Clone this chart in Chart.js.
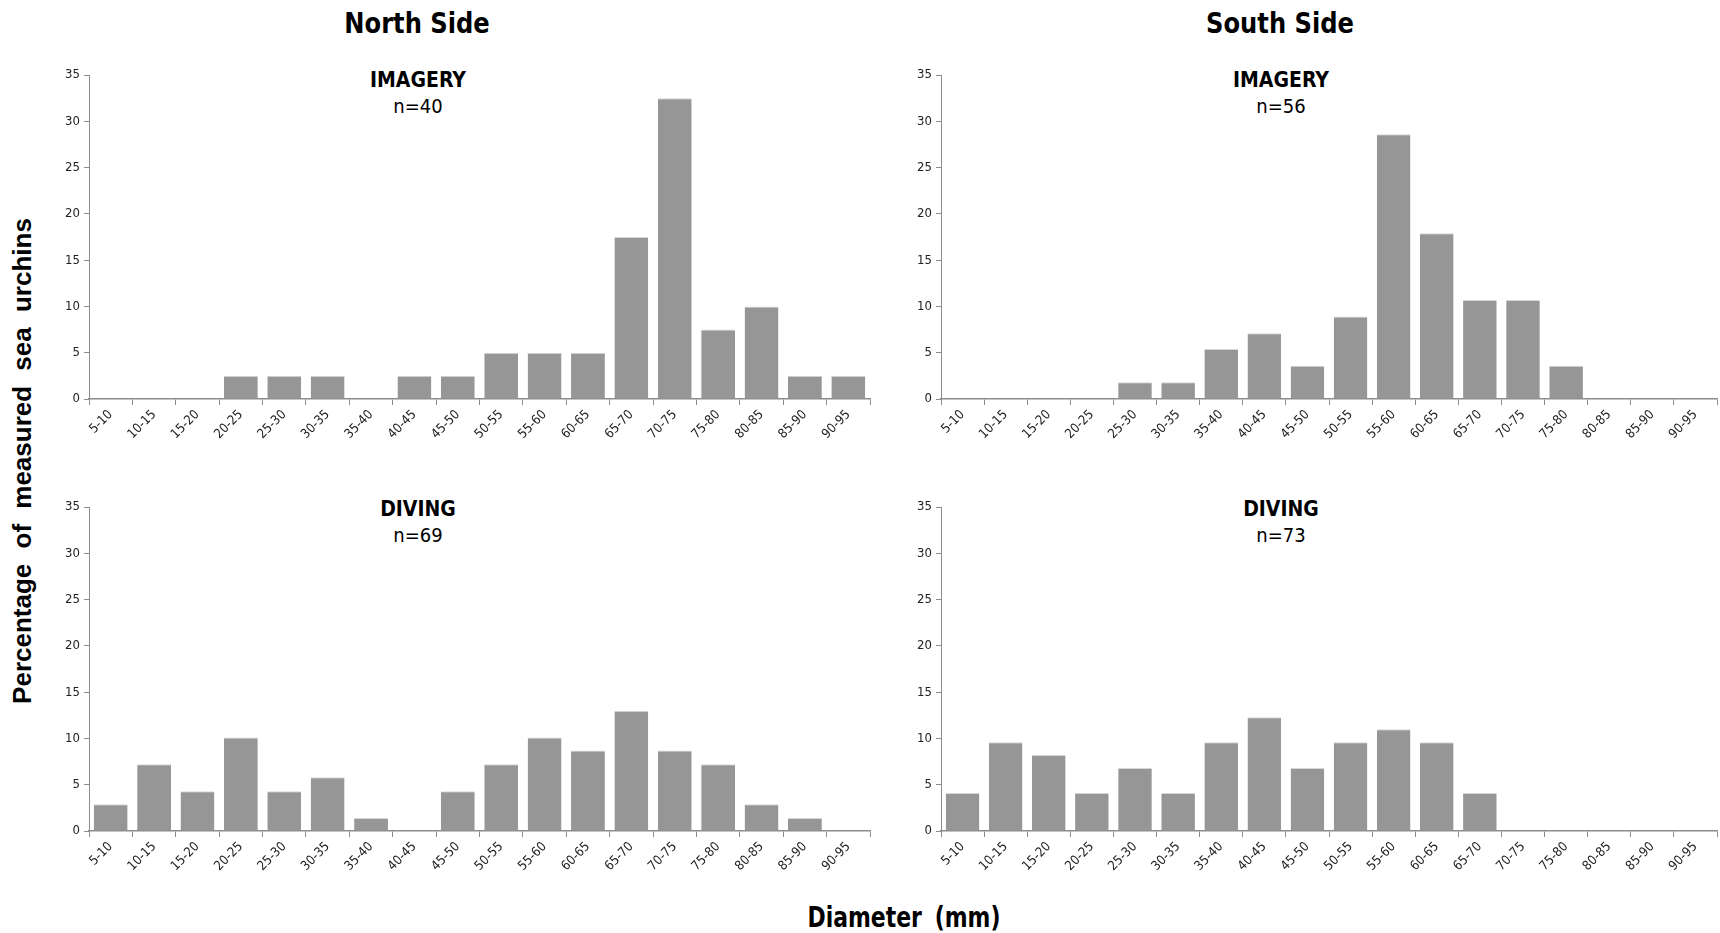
<!DOCTYPE html>
<html>
<head>
<meta charset="utf-8">
<script src="https://cdn.jsdelivr.net/npm/chart.js@4.4.1/dist/chart.umd.min.js"></script>
<style>
    html, body { margin: 0; padding: 0; background: #fff; overflow: hidden; }
    body { width: 1720px; height: 933px; position: relative; font-family: 'Liberation Sans Narrow', 'Arial Narrow', 'DejaVu Sans Condensed', sans-serif; }
    .box { position: absolute; }
    .lbl { position: absolute; transform: translate(-50%, -50%); white-space: nowrap; color: #000; }
    .side { font-size: 28px; font-weight: bold; transform: translate(-50%, -50%) scaleX(0.96); }
    .method { font-size: 21px; font-weight: bold; }
    .n { font-size: 20px; }
    .ylab { position: absolute; left: 22px; top: 461px; transform: translate(-50%, -50%) rotate(-90deg); white-space: nowrap;
            font-family: 'Liberation Sans', Arial, sans-serif; font-weight: bold; font-size: 26px; word-spacing: 8px; }
    .xlab { font-size: 28px; font-weight: bold; word-spacing: 6px; transform: translate(-50%, -50%) scaleX(0.87); }
</style>
</head>
<body>

<div class="lbl side" style="left:417px; top:23px;">North Side</div>
<div class="lbl side" style="left:1280px; top:23px;">South Side</div>

<div class="lbl method" style="left:418px; top:80px;">IMAGERY</div>
<div class="lbl n" style="left:418px; top:106px;">n=40</div>
<div class="lbl method" style="left:1281px; top:80px;">IMAGERY</div>
<div class="lbl n" style="left:1281px; top:106px;">n=56</div>
<div class="lbl method" style="left:418px; top:509px;">DIVING</div>
<div class="lbl n" style="left:418px; top:535px;">n=69</div>
<div class="lbl method" style="left:1281px; top:509px;">DIVING</div>
<div class="lbl n" style="left:1281px; top:535px;">n=73</div>

<div class="ylab">Percentage of measured sea urchins</div>
<div class="lbl xlab" style="left:904px; top:917px;">Diameter (mm)</div>

<div class="box" style="left:48px; top:60px; width:830px; height:400px;"><canvas id="northImagery"></canvas></div>
<div class="box" style="left:900px; top:60px; width:819px; height:400px;"><canvas id="southImagery"></canvas></div>
<div class="box" style="left:48px; top:490px; width:830px; height:402px;"><canvas id="northDiving"></canvas></div>
<div class="box" style="left:900px; top:490px; width:819px; height:402px;"><canvas id="southDiving"></canvas></div>

<script>
// size classes (mm)
const diameterClasses = ["5-10", "10-15", "15-20", "20-25", "25-30", "30-35", "35-40", "40-45", "45-50",
    "50-55", "55-60", "60-65", "65-70", "70-75", "75-80", "80-85", "85-90", "90-95"];

// percentage of measured sea urchins per class
const northImagery = [0, 0, 0, 2.5, 2.5, 2.5, 0, 2.5, 2.5, 5, 5, 5, 17.5, 32.5, 7.5, 10, 2.5, 2.5];
const southImagery = [0, 0, 0, 0, 1.8, 1.8, 5.4, 7.1, 3.6, 8.9, 28.6, 17.9, 10.7, 10.7, 3.6, 0, 0, 0];
const northDiving = [2.9, 7.2, 4.3, 10.1, 4.3, 5.8, 1.4, 0, 4.3, 7.2, 10.1, 8.7, 13.0, 8.7, 7.2, 2.9, 1.4, 0];
const southDiving = [4.1, 9.6, 8.2, 4.1, 6.8, 4.1, 9.6, 12.3, 6.8, 9.6, 11.0, 9.6, 4.1, 0, 0, 0, 0, 0];

const yTicks = [0, 5, 10, 15, 20, 25, 30, 35];

const tickFont = { family: "'Liberation Sans Narrow', 'Arial Narrow', 'DejaVu Sans Condensed', sans-serif", size: 13 };
const axisGray = '#8c8c8c';

Chart.defaults.animation = false;

function makePanel(id, values, padTop, padRight) {
    new Chart(document.getElementById(id), {
        type: 'bar',
        data: {
            labels: diameterClasses,
            datasets: [{
                data: values,
                backgroundColor: '#969696',
                borderColor: '#d6d6d6',
                borderWidth: { top: 1, left: 0, right: 0, bottom: 0 },
                borderSkipped: 'bottom',
                categoryPercentage: 1,
                barPercentage: 0.78
            }]
        },
        options: {
            responsive: true,
            maintainAspectRatio: false,
            layout: { padding: { top: padTop, right: padRight, left: 0, bottom: 0 } },
            plugins: { legend: { display: false }, tooltip: { enabled: false } },
            scales: {
                x: {
                    grid: { display: true, drawOnChartArea: false, drawTicks: true, tickLength: 6, color: axisGray, offset: true },
                    border: { display: true, color: axisGray, width: 1.5 },
                    ticks: {
                        autoSkip: false, maxRotation: 45, minRotation: 45,
                        color: '#222', font: tickFont, padding: 2
                    },
                    afterFit: function (scale) { scale.height = 61; }
                },
                y: {
                    min: 0,
                    max: 35,
                    afterBuildTicks: function (scale) { scale.ticks = yTicks.map(v => ({ value: v })); },
                    grid: { display: true, drawOnChartArea: false, drawTicks: true, tickLength: 5, color: axisGray },
                    border: { display: true, color: axisGray, width: 1 },
                    ticks: { color: '#222', font: tickFont, padding: 4 },
                    afterFit: function (scale) { scale.width = 41; }
                }
            }
        }
    });
}

makePanel('northImagery', northImagery, 15, 8);
makePanel('southImagery', southImagery, 15, 2);
makePanel('northDiving', northDiving, 17, 8);
makePanel('southDiving', southDiving, 17, 2);
</script>
</body>
</html>
